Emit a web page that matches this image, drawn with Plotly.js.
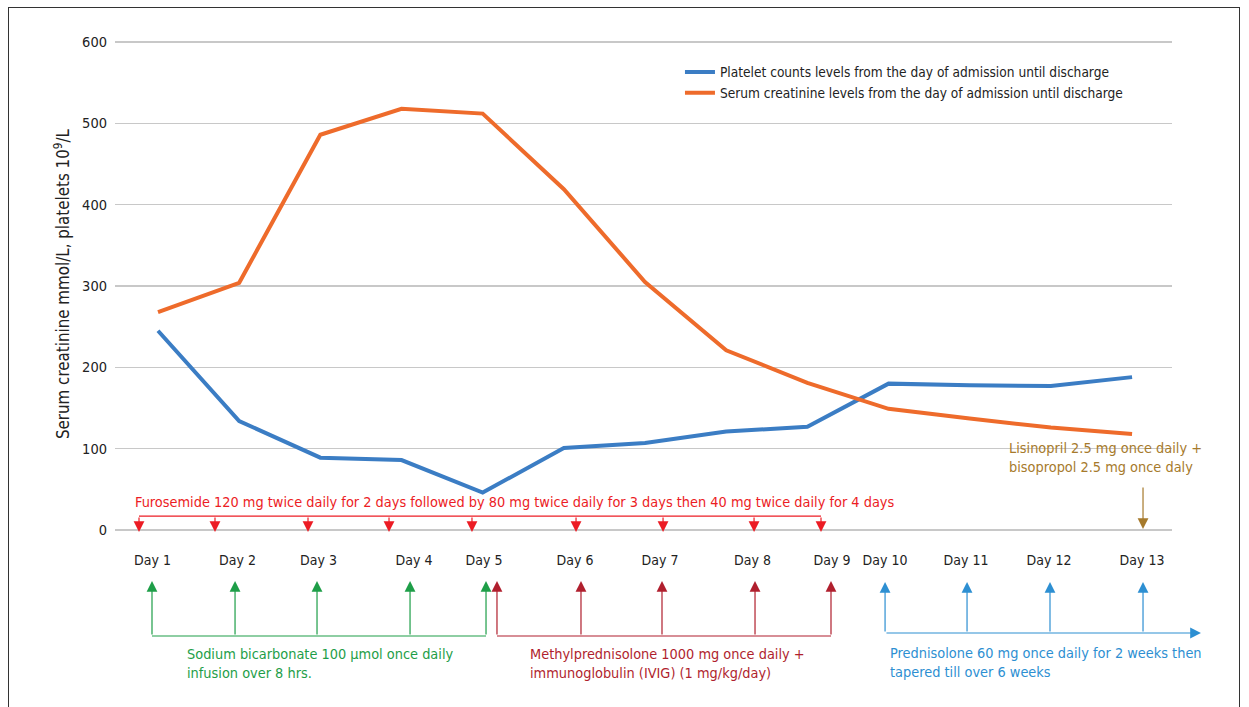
<!DOCTYPE html>
<html>
<head>
<meta charset="utf-8">
<script src="https://cdn.plot.ly/plotly-3.0.1.min.js"></script>
<style>
  html, body { margin: 0; padding: 0; background: #fff; }
  #wrap { position: relative; width: 1249px; height: 707px; overflow: hidden; }
  #chart { width: 1249px; height: 707px; }
  #frame { position: absolute; left: 8px; top: 7px; width: 1232px; height: 720px;
           border: 1.5px solid #333; pointer-events: none; box-sizing: border-box; }
</style>
</head>
<body>
<div id="wrap">
  <div id="chart"></div>
  <div id="frame"></div>
</div>
<script>
// ---- data ----
const dayNumbers = [1, 2, 3, 4, 5, 6, 7, 8, 9, 10, 11, 12, 13];
const dayLabels = ['Day 1', 'Day 2', 'Day 3', 'Day 4', 'Day 5', 'Day 6', 'Day 7',
                   'Day 8', 'Day 9', 'Day 10', 'Day 11', 'Day 12', 'Day 13'];
const platelets = [245, 134, 89, 86, 46, 101, 107, 121, 127, 180, 178, 177, 188];
const creatinine = [268, 304, 486, 518, 512, 419, 305, 221, 181, 149, 137, 126, 118];
const yTicks = [0, 100, 200, 300, 400, 500, 600];
const seriesNames = ['Platelet counts levels from the day of admission until discharge',
                     'Serum creatinine levels from the day of admission until discharge'];

// ---- styles / layout positions (axis units) ----
const FONT = '"DejaVu Sans Condensed", "Liberation Sans Narrow", sans-serif';
const BLUE = '#3b7dc4', ORANGE = '#ee6b2b';
const RED = '#ec1c24', GREEN = '#1e9e48', DRED = '#b01f2e', LBLUE = '#2d8fd2', BROWN = '#a67a2c';
const TXT = 14.4;

const dayLabelPos = [0.932, 1.979, 2.977, 4.154, 5.016, 6.137, 7.185, 8.324, 9.304, 9.957, 10.954, 11.977, 13.123];
const furoX = [0.766, 1.702, 2.848, 3.846, 4.868, 6.150, 7.222, 8.343, 9.168];
const bicarbX = [0.926, 1.949, 2.959, 4.105, 5.041];
const methylX = [5.176, 6.211, 7.209, 8.355, 9.291];
const prednX = [9.957, 10.967, 11.989, 13.135];

const annotations = [];
function arrow(x, yTip, yTail, color) {
  annotations.push({
    x: x, y: yTip, ax: x, ay: yTail, xref: 'x', yref: 'y', axref: 'x', ayref: 'y',
    text: '', showarrow: true, arrowhead: 2, arrowsize: 1.8, arrowwidth: 1.2,
    arrowcolor: color, standoff: 0
  });
}
function label(text, x, y, color) {
  annotations.push({
    x: x, y: y, xref: 'x', yref: 'y', text: text, showarrow: false,
    xanchor: 'left', yanchor: 'middle', align: 'left',
    font: { family: FONT, size: TXT, color: color }
  });
}

furoX.forEach(x => arrow(x, -2.5, 17.2, RED));
bicarbX.forEach(x => arrow(x, -62.7, -130.3, GREEN));
methylX.forEach(x => arrow(x, -62.7, -130.3, DRED));
prednX.forEach(x => arrow(x, -63.9, -126.6, LBLUE));
// prednisolone horizontal arrow running off the right of the plot
annotations.push({
  x: 1.0274, y: -126.6, xref: 'paper', yref: 'y', ax: -316, ay: 0, axref: 'pixel', ayref: 'pixel',
  text: '', showarrow: true, arrowhead: 2, arrowsize: 1.8, arrowwidth: 1.2, arrowcolor: LBLUE, standoff: 0
});
// lisinopril arrow
arrow(13.135, 1.2, 54.1, BROWN);

label('Furosemide 120 mg twice daily for 2 days followed by 80 mg twice daily for 3 days then 40 mg twice daily for 4 days', 0.692, 34.4, RED);
label('Sodium bicarbonate 100 µmol once daily<br>infusion over 8 hrs.', 1.333, -163.5, GREEN);
label('Methylprednisolone 1000 mg once daily +<br>immunoglobulin (IVIG) (1 mg/kg/day)', 5.558, -163.5, DRED);
label('Prednisolone 60 mg once daily for 2 weeks then<br>tapered till over 6 weeks', 9.993, -162.3, LBLUE);
label('Lisinopril 2.5 mg once daily +<br>bisopropol 2.5 mg once daly', 11.460, 89.1, BROWN);

// y-axis title
annotations.push({
  x: -0.0501, y: 302.5, xref: 'paper', yref: 'y', textangle: -90, showarrow: false,
  text: 'Serum creatinine mmol/L, platelets 10<sup>9</sup>/L',
  font: { family: FONT, size: 16.8, color: '#222' }, xanchor: 'center', yanchor: 'middle'
});

const shapes = [
  { type: 'line', xref: 'x', yref: 'y', x0: furoX[0], x1: furoX[furoX.length - 1], y0: 17.2, y1: 17.2, line: { color: RED, width: 1.2 } },
  { type: 'line', xref: 'x', yref: 'y', x0: bicarbX[0], x1: bicarbX[bicarbX.length - 1], y0: -130.3, y1: -130.3, line: { color: GREEN, width: 1.2 } },
  { type: 'line', xref: 'x', yref: 'y', x0: methylX[0], x1: methylX[methylX.length - 1], y0: -130.3, y1: -130.3, line: { color: DRED, width: 1.2 } }
];

const traces = [
  { x: dayNumbers, y: platelets, name: seriesNames[0], type: 'scatter', mode: 'lines',
    line: { color: BLUE, width: 4 }, hoverinfo: 'skip', legendgroup: 'a' },
  { x: dayNumbers, y: creatinine, name: seriesNames[1], type: 'scatter', mode: 'lines',
    line: { color: ORANGE, width: 4 }, hoverinfo: 'skip', legendgroup: 'b' }
];

const layout = {
  width: 1249, height: 707,
  margin: { l: 115, r: 77, t: 40, b: 0 },
  paper_bgcolor: 'rgba(0,0,0,0)', plot_bgcolor: 'rgba(0,0,0,0)',
  font: { family: FONT, size: TXT, color: '#222' },
  showlegend: true,
  legend: { x: 0.5345, y: 0.975, xanchor: 'left', yanchor: 'top', bgcolor: 'rgba(0,0,0,0)',
            traceorder: 'grouped', tracegroupgap: 0,
            font: { family: FONT, size: 13.6, color: '#222' } },
  xaxis: {
    range: [0.4702, 13.492], anchor: 'free', position: 0.235,
    tickmode: 'array', tickvals: dayLabelPos, ticktext: dayLabels,
    showgrid: false, zeroline: false, showline: false, ticks: '',
    tickfont: { family: FONT, size: 14, color: '#222' }
  },
  yaxis: {
    range: [-217.6, 602.5], tickmode: 'array', tickvals: yTicks,
    showgrid: true, gridcolor: '#c8c8c8', gridwidth: 1.5, zeroline: false, showline: false,
    ticks: '', ticklabelstandoff: 7,
    tickfont: { family: FONT, size: 14.5, color: '#222' }
  },
  annotations: annotations,
  shapes: shapes
};

Plotly.newPlot('chart', traces, layout, { displayModeBar: false, staticPlot: true });
</script>
</body>
</html>
